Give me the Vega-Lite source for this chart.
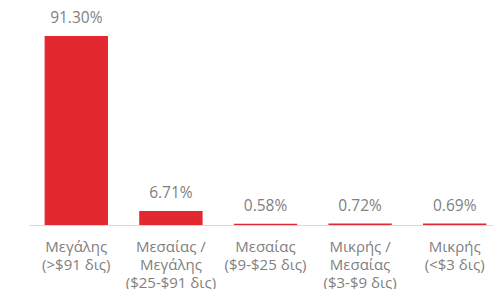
{
  "$schema": "https://vega.github.io/schema/vega-lite/v6.json",
  "autosize": "none",
  "padding": {"left": 29, "top": 0, "right": 0, "bottom": 64},
  "width": 473,
  "height": 225,
  "background": "white",
  "config": {"view": {"stroke": null}, "font": "Open Sans"},
  "data": {"values": [
    {"cat": "Μεγάλης|(>$91 δις)", "value": 91.30, "label": "91.30%"},
    {"cat": "Μεσαίας /|Μεγάλης|($25-$91 δις)", "value": 6.71, "label": "6.71%"},
    {"cat": "Μεσαίας|($9-$25 δις)", "value": 0.58, "label": "0.58%"},
    {"cat": "Μικρής /|Μεσαίας|($3-$9 δις)", "value": 0.72, "label": "0.72%"},
    {"cat": "Μικρής|(<$3 δις)", "value": 0.69, "label": "0.69%"}
  ]},
  "encoding": {
    "x": {"field": "cat", "type": "nominal", "sort": null,
      "scale": {"paddingInner": 0.33, "paddingOuter": 0.165},
      "axis": {"title": null, "labelAngle": 0, "ticks": false, "domainColor": "#d9d9d9", "domainWidth": 1,
        "labelExpr": "split(datum.label, '|')", "labelFontSize": 15, "labelColor": "#7f7f7f",
        "labelPadding": 14, "labelLineHeight": 18, "labelFont": "Open Sans"}},
    "y": {"field": "value", "type": "quantitative", "scale": {"domain": [0, 108.7], "nice": false}, "axis": null}
  },
  "layer": [
    {"mark": {"type": "bar", "color": "#e3292f"}},
    {"mark": {"type": "text", "dy": -13, "baseline": "alphabetic", "fontSize": 15.5, "color": "#7f7f7f", "font": "Open Sans"},
     "encoding": {"text": {"field": "label"}}}
  ]
}
